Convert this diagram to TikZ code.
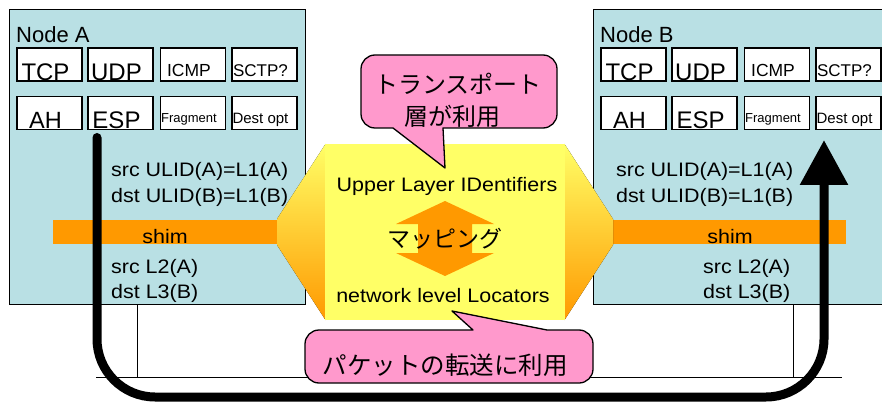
\documentclass[tikz,border=0pt]{standalone}
\usepackage{fontspec}
\setmainfont{Liberation Sans}
\newfontfamily\widefont{Liberation Sans}[FakeStretch=1.1]
\newfontfamily\jpfont{Noto Sans CJK JP}
\usetikzlibrary{arrows.meta}

\definecolor{hostblue}{RGB}{185,224,228}
\definecolor{shimorange}{RGB}{255,153,0}
\definecolor{hexyellow}{RGB}{255,255,102}
\definecolor{hexmid}{RGB}{255,214,78}
\definecolor{balloonpink}{RGB}{255,153,204}

\tikzset{
  host/.style={draw=black, line width=1.2pt, fill=hostblue, inner sep=0pt, anchor=north west},
  pbox/.style={draw=black, line width=1.5pt, fill=white, inner sep=0pt,
               minimum width=65pt, minimum height=33pt},
  boxtext/.style={anchor=base, inner sep=0pt},
  hosttitle/.style={anchor=base west, inner sep=0pt, font=\fontsize{22}{24}\selectfont},
  addr/.style={anchor=base west, inner sep=0pt, font={\widefont\fontsize{19.5}{20}\selectfont}},
  centertext/.style={anchor=base, inner sep=0pt, font={\widefont\fontsize{19.5}{20}\selectfont}},
  jptext/.style={anchor=base, inner sep=0pt, font={\jpfont\fontsize{24}{26}\selectfont}},
  wedge/.style={top color=hexyellow, middle color=hexmid, bottom color=shimorange},
  balloon/.style={fill=balloonpink, draw=black, line width=1.3pt, line join=round},
  busline/.style={draw=black, line width=0.9pt},
  bigarrow/.style={line width=9pt, line cap=round, rounded corners=58pt,
                   -{Triangle[length=45pt,width=46pt]}},
}

% protocol box: name, centre x, centre y, label, font size, baseline lift
\newcommand\protobox[6]{%
  \node[pbox] (#1) at (#2,#3) {};
  \node[boxtext, font=\fontsize{#5}{#5}\selectfont] (#1-l) at ([xshift=-4pt,yshift=#6]#1.south) {#4};
}

\begin{document}
\begin{tikzpicture}[x=1pt,y=-1pt]
\useasboundingbox (0,0) rectangle (882,403);

% hosts
\node[host, minimum width=296pt, minimum height=295pt] (nodeA) at (9,9) {};
\node[host, minimum width=310pt, minimum height=295pt] (nodeB) at (593,9) {};

% bus below the hosts
\coordinate (busL) at (96,377);
\coordinate (busR) at (842,377);
\coordinate (tapA) at (137,377);
\coordinate (tapB) at (793,377);
\draw[busline] (busL) -- (busR);
\draw[busline] (tapA |- nodeA.south) -- (tapA);
\draw[busline] (tapB |- nodeB.south) -- (tapB);

% host titles
\node[hosttitle] (titleA) at (16,43) {Node A};
\node[hosttitle] (titleB) at (600,43) {Node B};

% protocol boxes of node A
\protobox{a-tcp}{49.5}{64.5}{TCP}{24}{1.5pt}
\protobox{a-udp}{120.5}{64.5}{UDP}{24}{1.5pt}
\protobox{a-icmp}{193}{64.5}{ICMP}{17.5}{5pt}
\protobox{a-sctp}{264.5}{64.5}{SCTP?}{17}{5pt}
\protobox{a-ah}{49.5}{113}{AH}{23.5}{1.5pt}
\protobox{a-esp}{120.5}{113}{ESP}{24}{1.5pt}
\protobox{a-frag}{193}{113}{Fragment}{13}{8pt}
\protobox{a-dest}{264.5}{113}{Dest opt}{15}{6.5pt}

% protocol boxes of node B
\protobox{b-tcp}{633.5}{64.5}{TCP}{24}{1.5pt}
\protobox{b-udp}{704.5}{64.5}{UDP}{24}{1.5pt}
\protobox{b-icmp}{777}{64.5}{ICMP}{17.5}{5pt}
\protobox{b-sctp}{848.5}{64.5}{SCTP?}{17}{5pt}
\protobox{b-ah}{633.5}{113}{AH}{23.5}{1.5pt}
\protobox{b-esp}{704.5}{113}{ESP}{24}{1.5pt}
\protobox{b-frag}{777}{113}{Fragment}{13}{8pt}
\protobox{b-dest}{848.5}{113}{Dest opt}{15}{6.5pt}

% shim layers
\fill[shimorange] (53,220) rectangle (278,244);
\fill[shimorange] (612,220) rectangle (846,244);

% identifier / locator mapping block
\fill[wedge] (325.5,144) -- (277,219) -- (277,245) -- (325.5,320) -- cycle;
\fill[wedge] (564.5,144) -- (613,219) -- (613,245) -- (564.5,320) -- cycle;
\fill[hexyellow] (325,144) rectangle (565,320);

% double-headed mapping arrow
\fill[shimorange] (445,201) -- (494,224) -- (472,224) -- (472,253) -- (494,253)
  -- (445,276) -- (396,253) -- (418,253) -- (418,224) -- (396,224) -- cycle;

% address texts
\node[addr] (a-src1) at (111,177) {src ULID(A)=L1(A)};
\node[addr] (a-dst1) at (111,203) {dst ULID(B)=L1(B)};
\node[addr] (a-src2) at (111,273) {src L2(A)};
\node[addr] (a-dst2) at (111,298) {dst L3(B)};
\node[addr] (b-src1) at (616,177) {src ULID(A)=L1(A)};
\node[addr] (b-dst1) at (616,203) {dst ULID(B)=L1(B)};
\node[addr] (b-src2) at (703,273) {src L2(A)};
\node[addr] (b-dst2) at (703,298) {dst L3(B)};
\node[centertext] (shimA) at (165,243) {shim};
\node[centertext] (shimB) at (730,243) {shim};

\node[centertext] (ulid) at (447,192) {Upper Layer IDentifiers};
\node[centertext] (loc) at (443,302) {network level Locators};
\node[jptext, font={\jpfont\fontsize{23}{24}\selectfont}] (map) at (445,247) {マッピング};

% balloon: transport layer
\draw[balloon] (375,55) -- (543,55) arc[start angle=270,end angle=360,radius=14]
  -- (557,114) arc[start angle=0,end angle=90,radius=14]
  -- (443,128) -- (445,168) -- (393,128)
  -- (375,128) arc[start angle=90,end angle=180,radius=14]
  -- (361,69) arc[start angle=180,end angle=270,radius=14] -- cycle;
\node[jptext] (tp1) at (458,94) {トランスポート};
\node[jptext] (tp2) at (452,126) {層が利用};

% balloon: packet forwarding
\draw[balloon] (319,330) -- (473,330) -- (452,311) -- (547,330)
  -- (579,330) arc[start angle=270,end angle=360,radius=14]
  -- (593,369) arc[start angle=0,end angle=90,radius=14]
  -- (319,383) arc[start angle=90,end angle=180,radius=14]
  -- (305,344) arc[start angle=180,end angle=270,radius=14] -- cycle;
\node[jptext, font={\jpfont\fontsize{24.5}{26}\selectfont}] (fwd) at (445,374) {パケットの転送に利用};

% packet path from node A to node B
\coordinate (pathA) at (97,137.5);
\coordinate (pathB) at (824,140);
\coordinate (pathBottom) at (824,397);
\draw[bigarrow] (pathA) |- (pathBottom) -- (pathB);
\end{tikzpicture}
\end{document}
